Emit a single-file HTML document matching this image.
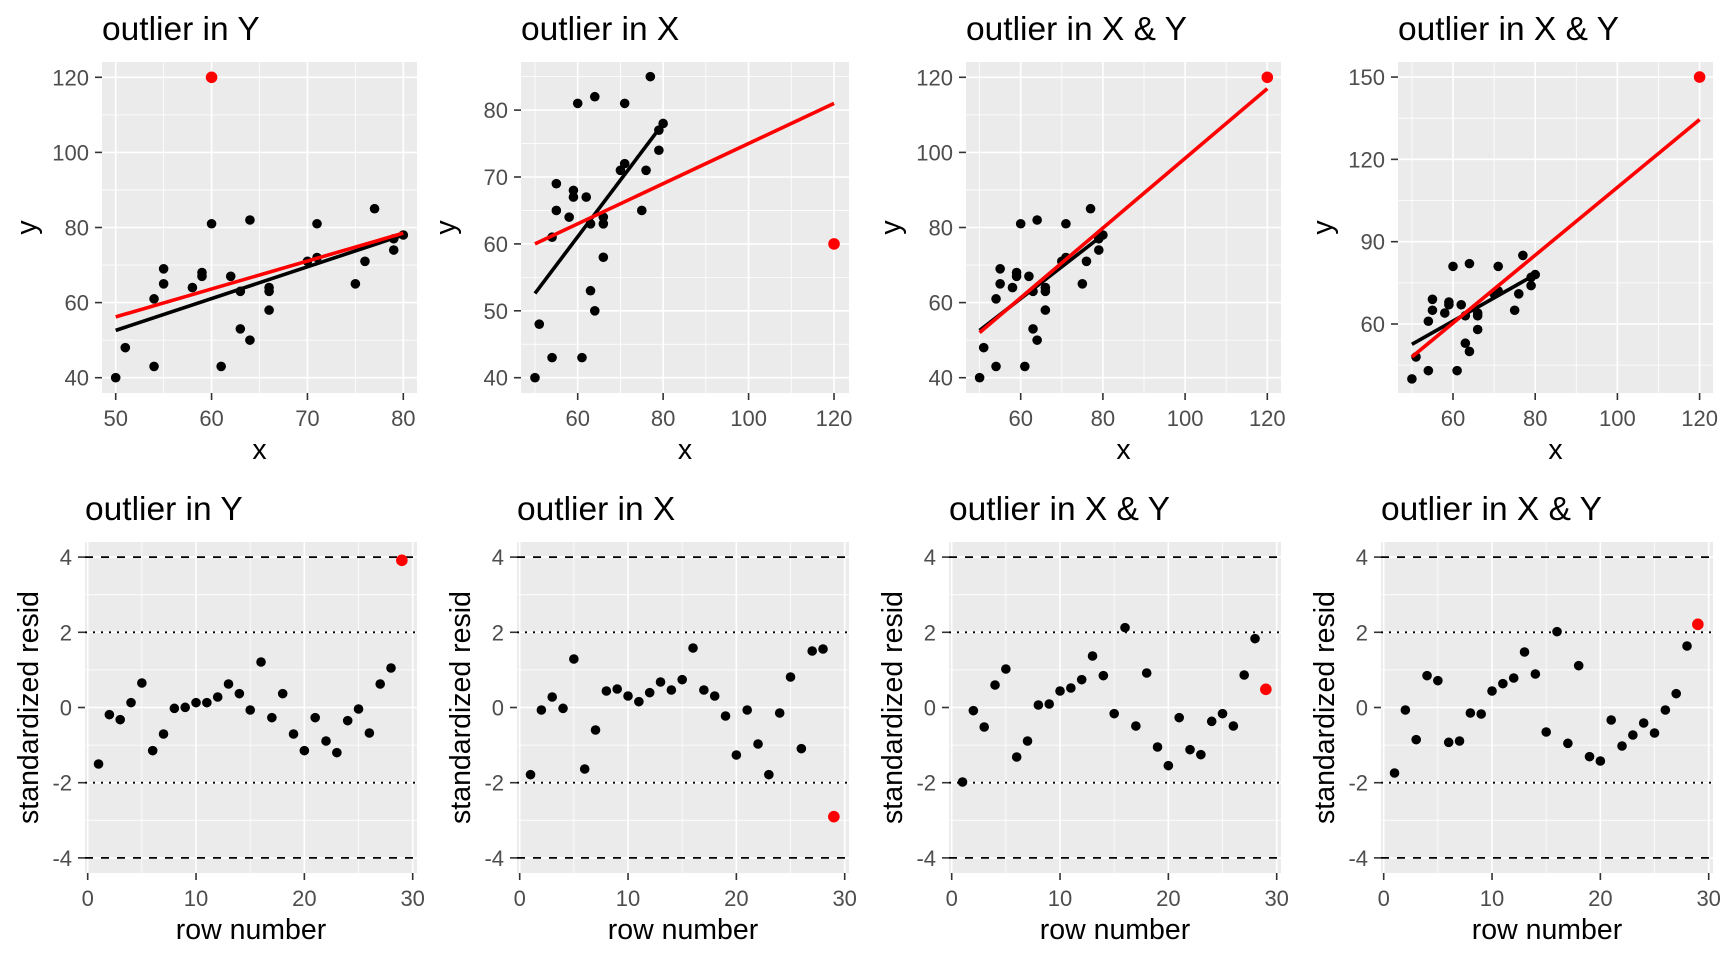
<!DOCTYPE html>
<html><head><meta charset="utf-8"><style>
html,body{margin:0;padding:0;background:#fff;}
svg{display:block;}
text{font-family:"Liberation Sans",Arial,sans-serif;}
</style></head><body>
<svg id="s" width="1728" height="960" xmlns="http://www.w3.org/2000/svg"></svg>
<script>
const S=document.getElementById('s');
let h='';
const base=[[50,40],[51,48],[54,43],[54,61],[55,69],[55,65],[58,64],[59,68],[59,67],[60,81],[61,43],[62,67],[63,63],[63,53],[64,82],[64,50],[66,64],[66,63],[66,58],[70,71],[71,72],[71,81],[75,65],[76,71],[77,85],[79,74],[79,77],[80,78]];
function panel(L,T,R,B,xs,ys,X,Y,xmaj,xmin,ymaj,ymin,xlab,ylab,ylabX,title){
  h+=`<rect x="${L}" y="${T}" width="${R-L}" height="${B-T}" fill="#ebebeb"/>`;
  xmin.forEach(v=>{const p=X(v);h+=`<line x1="${p}" x2="${p}" y1="${T}" y2="${B}" stroke="#fff" stroke-width="0.8"/>`;});
  ymin.forEach(v=>{const p=Y(v);h+=`<line y1="${p}" y2="${p}" x1="${L}" x2="${R}" stroke="#fff" stroke-width="0.8"/>`;});
  xmaj.forEach(v=>{const p=X(v);h+=`<line x1="${p}" x2="${p}" y1="${T}" y2="${B}" stroke="#fff" stroke-width="1.6"/>`;
    h+=`<line x1="${p}" x2="${p}" y1="${B}" y2="${B+7}" stroke="#333" stroke-width="1.6"/>`;
    h+=`<text x="${p}" y="${B+33}" font-size="22" fill="#4d4d4d" text-anchor="middle">${v}</text>`;});
  ymaj.forEach(v=>{const p=Y(v);h+=`<line y1="${p}" y2="${p}" x1="${L}" x2="${R}" stroke="#fff" stroke-width="1.6"/>`;
    h+=`<line y1="${p}" y2="${p}" x1="${L-7}" x2="${L}" stroke="#333" stroke-width="1.6"/>`;
    h+=`<text x="${L-13}" y="${p+8}" font-size="22" fill="#4d4d4d" text-anchor="end">${v}</text>`;});
  h+=`<text x="${(L+R)/2}" y="${B+66}" font-size="28.5" text-anchor="middle">${xlab}</text>`;
  h+=`<text transform="translate(${ylabX},${(T+B)/2}) rotate(-90)" font-size="28.5" text-anchor="middle">${ylab}</text>`;
  h+=`<text x="${L}" y="${T-22}" font-size="33.5">${title}</text>`;
}
function dot(x,y,c,r){h+=`<circle cx="${x}" cy="${y}" r="${r}" fill="${c}"/>`;}
function line(x1,y1,x2,y2,c){h+=`<line x1="${x1}" y1="${y1}" x2="${x2}" y2="${y2}" stroke="${c}" stroke-width="3.6"/>`;}
const tops=[
 {L:102,X:x=>115.7+(x-50)*9.587,Y:y=>377.7-(y-40)*3.755,xmaj:[50,60,70,80],xmin:[55,65,75],ymaj:[40,60,80,100,120],ymin:[50,70,90,110],out:[60,120],red:[50,56.2,80,78.5],t:"outlier in Y"},
 {L:521,X:x=>577.7+(x-60)*4.272,Y:y=>377.7-(y-40)*6.69,xmaj:[60,80,100,120],xmin:[50,70,90,110],ymaj:[40,50,60,70,80],ymin:[45,55,65,75,85],out:[120,60],red:[50,60,120,81],t:"outlier in X"},
 {L:966,X:x=>1020.7+(x-60)*4.11,Y:y=>377.7-(y-40)*3.755,xmaj:[60,80,100,120],xmin:[50,70,90,110],ymaj:[40,60,80,100,120],ymin:[50,70,90,110],out:[120,120],red:[50,52,120,117],t:"outlier in X &amp; Y"},
 {L:1398,X:x=>1453+(x-60)*4.11,Y:y=>324-(y-60)*2.744,xmaj:[60,80,100,120],xmin:[50,70,90,110],ymaj:[60,90,120,150],ymin:[45,75,105,135],out:[120,150],red:[50,48,120,134.5],t:"outlier in X &amp; Y"}
];
tops.forEach((p,i)=>{
  const R=417+432*i;
  panel(p.L,62,R,393,0,0,p.X,p.Y,p.xmaj,p.xmin,p.ymaj,p.ymin,"x","y",p.L-66,p.t);
  base.forEach(d=>dot(p.X(d[0]),p.Y(d[1]),"#000",4.8));
  line(p.X(50),p.Y(52.6),p.X(80),p.Y(78),"#000");
  line(p.X(p.red[0]),p.Y(p.red[1]),p.X(p.red[2]),p.Y(p.red[3]),"#f00");
  dot(p.X(p.out[0]),p.Y(p.out[1]),"#f00",5.8);
});
const py=[
 [852,704,719,668,609,812,762,685,682,668,668,651,612,641,690,546,713,641,762,812,713,783,818,722,687,759,612,564,241],
 [884,690,651,685,537,867,750,633,627,648,665,638,606,630,599,504,630,648,708,825,690,792,884,699,591,806,513,507,1010],
 [906,692,741,615,567,831,783,675,672,633,624,599,528,587,701,443,738,579,801,857,713,809,824,724,701,738,585,476,628],
 [879,690,779,587,602,787,783,699,702,633,611,594,516,582,756,455,790,557,830,843,720,798,765,729,759,690,641,498,433]];
const titles=["outlier in Y","outlier in X","outlier in X &amp; Y","outlier in X &amp; Y"];
for(let k=0;k<4;k++){
  const L=432*k+85,R=432*k+417;
  const X=n=>432*k+87.7+n*10.833, Y=v=>707.5-v*37.6;
  panel(L,542,R,873,0,0,X,Y,[0,10,20,30],[5,15,25],[-4,-2,0,2,4],[-3,-1,1,3],"row number","standardized resid",L-47,titles[k]);
  [[4,"8,8"],[-4,"8,8"],[2,"2,6"],[-2,"2,6"]].forEach(a=>{const p=Y(a[0]);h+=`<line x1="${L}" x2="${R}" y1="${p}" y2="${p}" stroke="#000" stroke-width="1.8" stroke-dasharray="${a[1]}"/>`;});
  py[k].forEach((v,i)=>{dot(X(i+1),480+v/3,i==28?"#f00":"#000",i==28?5.8:4.8);});
}
S.innerHTML=h;
</script>
</body></html>
